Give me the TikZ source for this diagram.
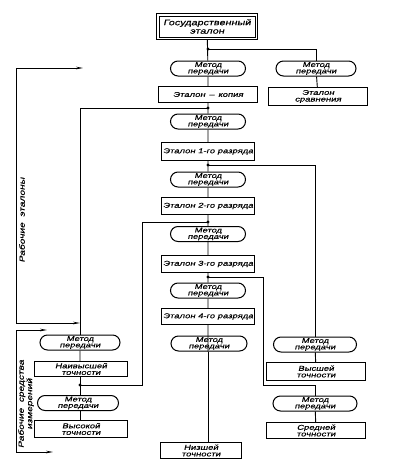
\documentclass[tikz,border=0pt]{standalone}
\usepackage{fontspec}
\setmainfont{Liberation Sans}[FakeSlant=0.22,FakeStretch=1.35,FakeBold=0.4]
\usetikzlibrary{shapes.misc,arrows.meta}
\newcommand\pillfnt{\fontsize{6.9}{6.4}\selectfont}
\newcommand\boxfnt{\fontsize{7}{6.6}\selectfont}
\newcommand\bigfnt{\fontsize{8}{8.4}\selectfont}
\newcommand\sidefnt{\fontsize{7.5}{8.5}\selectfont}
\tikzset{
  sbox/.style={rectangle, inner sep=0pt, align=center, font=\boxfnt},
  boxline/.style={line width=1.1pt, line join=miter},
  pill/.style={draw=black, rounded rectangle, line width=1pt, inner sep=0pt, align=center, font=\pillfnt, minimum height=15pt},
  link/.style={line width=0.9pt},
  dotmark/.style={fill=black},
  bracket/.style={line width=0.9pt, {Stealth[length=7pt,width=2.6pt]}-{Stealth[length=7pt,width=2.6pt]}},
  sidelabel/.style={rotate=90, font=\sidefnt, align=center, inner sep=0pt}
}
\begin{document}
\begin{tikzpicture}[x=1pt,y=-1pt]
\useasboundingbox (0,0) rectangle (417,469);
% centre column
\node[sbox, font=\bigfnt, minimum width=100pt, minimum height=25pt] (gos) at (207,26.5) {Государственный\\эталон};
\node[pill, minimum width=75pt] (m0) at (208,68.5) {Метод\\передачи};
\node[sbox, minimum width=98pt, minimum height=15pt] (kop) at (208,94.5) {Эталон \,–\, копия};
\node[pill, minimum width=75pt] (m1) at (208,121.5) {Метод\\передачи};
\node[sbox, minimum width=93pt, minimum height=17pt] (r1) at (208,151.5) {Эталон 1-го разряда};
\node[pill, minimum width=75pt] (m2) at (208,179.5) {Метод\\передачи};
\node[sbox, minimum width=93pt, minimum height=16pt] (r2) at (208,206) {Эталон 2-го разряда};
\node[pill, minimum width=75pt] (m3) at (208,234) {Метод\\передачи};
\node[sbox, minimum width=93pt, minimum height=16pt] (r3) at (208,264) {Эталон 3-го разряда};
\node[pill, minimum width=75pt] (m4) at (208,290.5) {Метод\\передачи};
\node[sbox, minimum width=93pt, minimum height=15pt] (r4) at (208,316.5) {Эталон 4-го разряда};
\node[pill, minimum width=76pt] (m5) at (209,343.5) {Метод\\передачи};
\node[sbox, minimum width=81pt, minimum height=15pt] (low) at (201,450.5) {Низшей\\точности};
% right column
\node[pill, minimum width=80pt] (rm0) at (316,68.5) {Метод\\передачи};
\node[sbox, minimum width=98pt, minimum height=17pt] (srav) at (318,96.5) {Эталон\\сравнения};
\node[pill, minimum width=83pt] (rm1) at (315,344.5) {Метод\\передачи};
\node[sbox, minimum width=98pt, minimum height=17pt] (rb1) at (316,371.5) {Высшей\\точности};
\node[pill, minimum width=84pt] (rm2) at (315,403.5) {Метод\\передачи};
\node[sbox, minimum width=99pt, minimum height=15pt] (rb2) at (316,430.5) {Средней\\точности};
% left column
\node[pill, minimum width=80pt] (lm1) at (80,342.5) {Метод\\передачи};
\node[sbox, minimum width=93pt, minimum height=14pt] (lb1) at (81,369) {Наивысшей\\точности};
\node[pill, minimum width=81pt] (lm2) at (78,403) {Метод\\передачи};
\node[sbox, minimum width=93pt, minimum height=16pt] (lb2) at (81,429) {Высокой\\точности};
% box outlines
\foreach \b in {kop,r1,r2,r3,r4,low,srav,rb1,rb2,lb1,lb2}
  \draw[boxline] (\b.north west) -- (\b.north east) -- (\b.south east) -- (\b.south west) -- cycle;
\draw[line width=1.3pt] (gos.north west) -- (gos.north east) -- (gos.south east) -- (gos.south west) -- cycle;
\draw[line width=0.7pt] ([shift={(2.3pt,-2.3pt)}]gos.north west) -- ([shift={(-2.3pt,-2.3pt)}]gos.north east) -- ([shift={(-2.3pt,2.3pt)}]gos.south east) -- ([shift={(2.3pt,2.3pt)}]gos.south west) -- cycle;
% junctions
\coordinate (j0) at (208,49);
\coordinate (j1) at (208,108);
\coordinate (j2) at (208,165);
\coordinate (j3) at (208,222);
\coordinate (j4) at (208,277);
\coordinate (jL) at (80,385);
\coordinate (lc) at (142,385);
\coordinate (rc) at (263,385);
% centre connectors
\draw[link] (gos) -- (m0) -- (kop) -- (m1) -- (r1) -- (m2) -- (r2) -- (m3) -- (r3) -- (m4) -- (r4) -- (m5.south -| m4.south);
\draw[link] (m5.south -| m4.south) -- (m4.south |- low.north);
% branches
\draw[link] (j0) -| (rm0.north);
\draw[link] (rm0) -- (srav);
\draw[link] (j1) -| (lm1.north);
\draw[link] (j2) -| (rm1.north);
\draw[link] (rm1) -- (rb1);
\draw[link] (j3) -| (lc) -- (jL);
\draw[link] (j4) -| (rc) -| (rm2.north);
\draw[link] (rm2) -- (rb2);
\draw[link] (lm1) -- (lb1.north -| lm1.south);
\draw[link] (lb1.south -| lm1.south) -- (lm2.north -| lm1.south);
\draw[link] (lm2.south -| lm1.south) -- (lb2.north -| lm1.south);
\foreach \j in {j0,j1,j2,j3,j4,jL} \fill[dotmark] (\j) circle (1.6pt);
% brackets
\coordinate (t1) at (83,68);
\coordinate (t2) at (80,323);
\coordinate (t3) at (47,330);
\coordinate (t4) at (53,452);
\draw[bracket] (t1) -- (16,68) -- (16,323) -- (t2);
\draw[bracket] (t3) -- (16,330) -- (16,452) -- (t4);
\node[sidelabel] (lab1) at (22,220) {Рабочие \ эталоны};
\node[sidelabel] (lab2) at (26,404) {Рабочие \ средства\\измерений};
\end{tikzpicture}
\end{document}
